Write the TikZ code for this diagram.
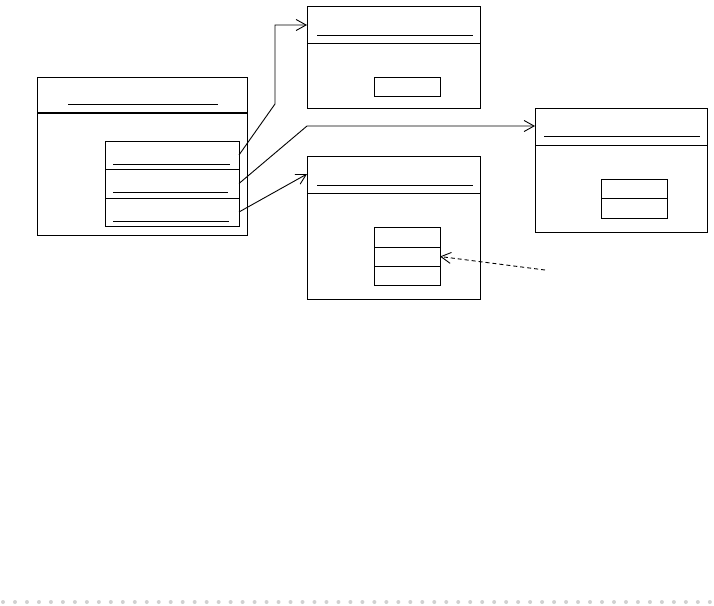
\documentclass[tikz,border=0pt]{standalone}
\usepackage{tikz}
\usetikzlibrary{arrows.meta, positioning, calc}

\begin{document}
\begin{tikzpicture}[
    x=1pt, y=-1pt,
    every node/.style={inner sep=0pt, outer sep=0pt},
    classbox/.style={rectangle, draw, line width=1pt, anchor=north west},
    cell/.style={rectangle, draw, line width=1pt, anchor=north west,
                 minimum width=#1},
    uline/.style={line width=0.9pt},
    assoc/.style={-{Straight Barb[length=10pt, width=11pt]}, line width=0.9pt},
    dep/.style={-{Straight Barb[length=10pt, width=11pt]}, line width=0.9pt,
                dash pattern=on 4pt off 3pt}
]
\useasboundingbox (0,0) rectangle (714,605);

% outer classes
\node (classA) [classbox, minimum width=210pt, minimum height=158pt] at (37,77)  {};
\node (classB) [classbox, minimum width=173pt, minimum height=102pt] at (307,6)  {};
\node (classC) [classbox, minimum width=173pt, minimum height=143pt] at (307,156) {};
\node (classD) [classbox, minimum width=172pt, minimum height=124pt] at (535,108) {};

% header dividers and name lines
\draw [line width=2.2pt] (classA.west |- 0,113) -- (classA.east |- 0,113);
\draw [line width=0.9pt] (classB.west |- 0,43)  -- (classB.east |- 0,43);
\draw [line width=0.9pt] (classC.west |- 0,193) -- (classC.east |- 0,193);
\draw [line width=0.9pt] (classD.west |- 0,145) -- (classD.east |- 0,145);
\draw [uline] (68,104) -- (218,104);
\draw [uline] (317,35) -- (473,35);
\draw [uline] (317,185) -- (473,185);
\draw [uline] (544,136) -- (700,136);

% attributes of classA
\node (a1) [cell=134pt, minimum height=28pt] at (105,141) {};
\node (a2) [cell=134pt, minimum height=29pt] at (105,169) {};
\node (a3) [cell=134pt, minimum height=28pt] at (105,198) {};
\draw [uline] (113,164) -- (230,164);
\draw [uline] (113,192) -- (228,192);
\draw [uline] (113,221) -- (229,221);

% inner parts of the other classes
\node (b1) [cell=66pt, minimum height=19pt] at (374,77)  {};
\node (c1) [cell=66pt, minimum height=20pt] at (374,227) {};
\node (c2) [cell=66pt, minimum height=19pt] at (374,247) {};
\node (c3) [cell=66pt, minimum height=19pt] at (374,266) {};
\node (d1) [cell=66pt, minimum height=19pt] at (601,179) {};
\node (d2) [cell=66pt, minimum height=20pt] at (601,198) {};

\coordinate (note) at (545,270);

% links
\draw [assoc] (a1.east) -- (275,104) |- ([yshift=-19pt]classB.north west);
\draw [assoc] (a2.east) -- (307,126) -- ([yshift=-18pt]classD.north west);
\draw [assoc] (a3.east) -- ([yshift=-18pt]classC.north west);
\draw [dep] (note) -- (c2.east);

% page edge
\foreach \i in {0,...,59}
    \fill [black!18] (3+\i*11.98, 602) circle (2pt);
\end{tikzpicture}
\end{document}
